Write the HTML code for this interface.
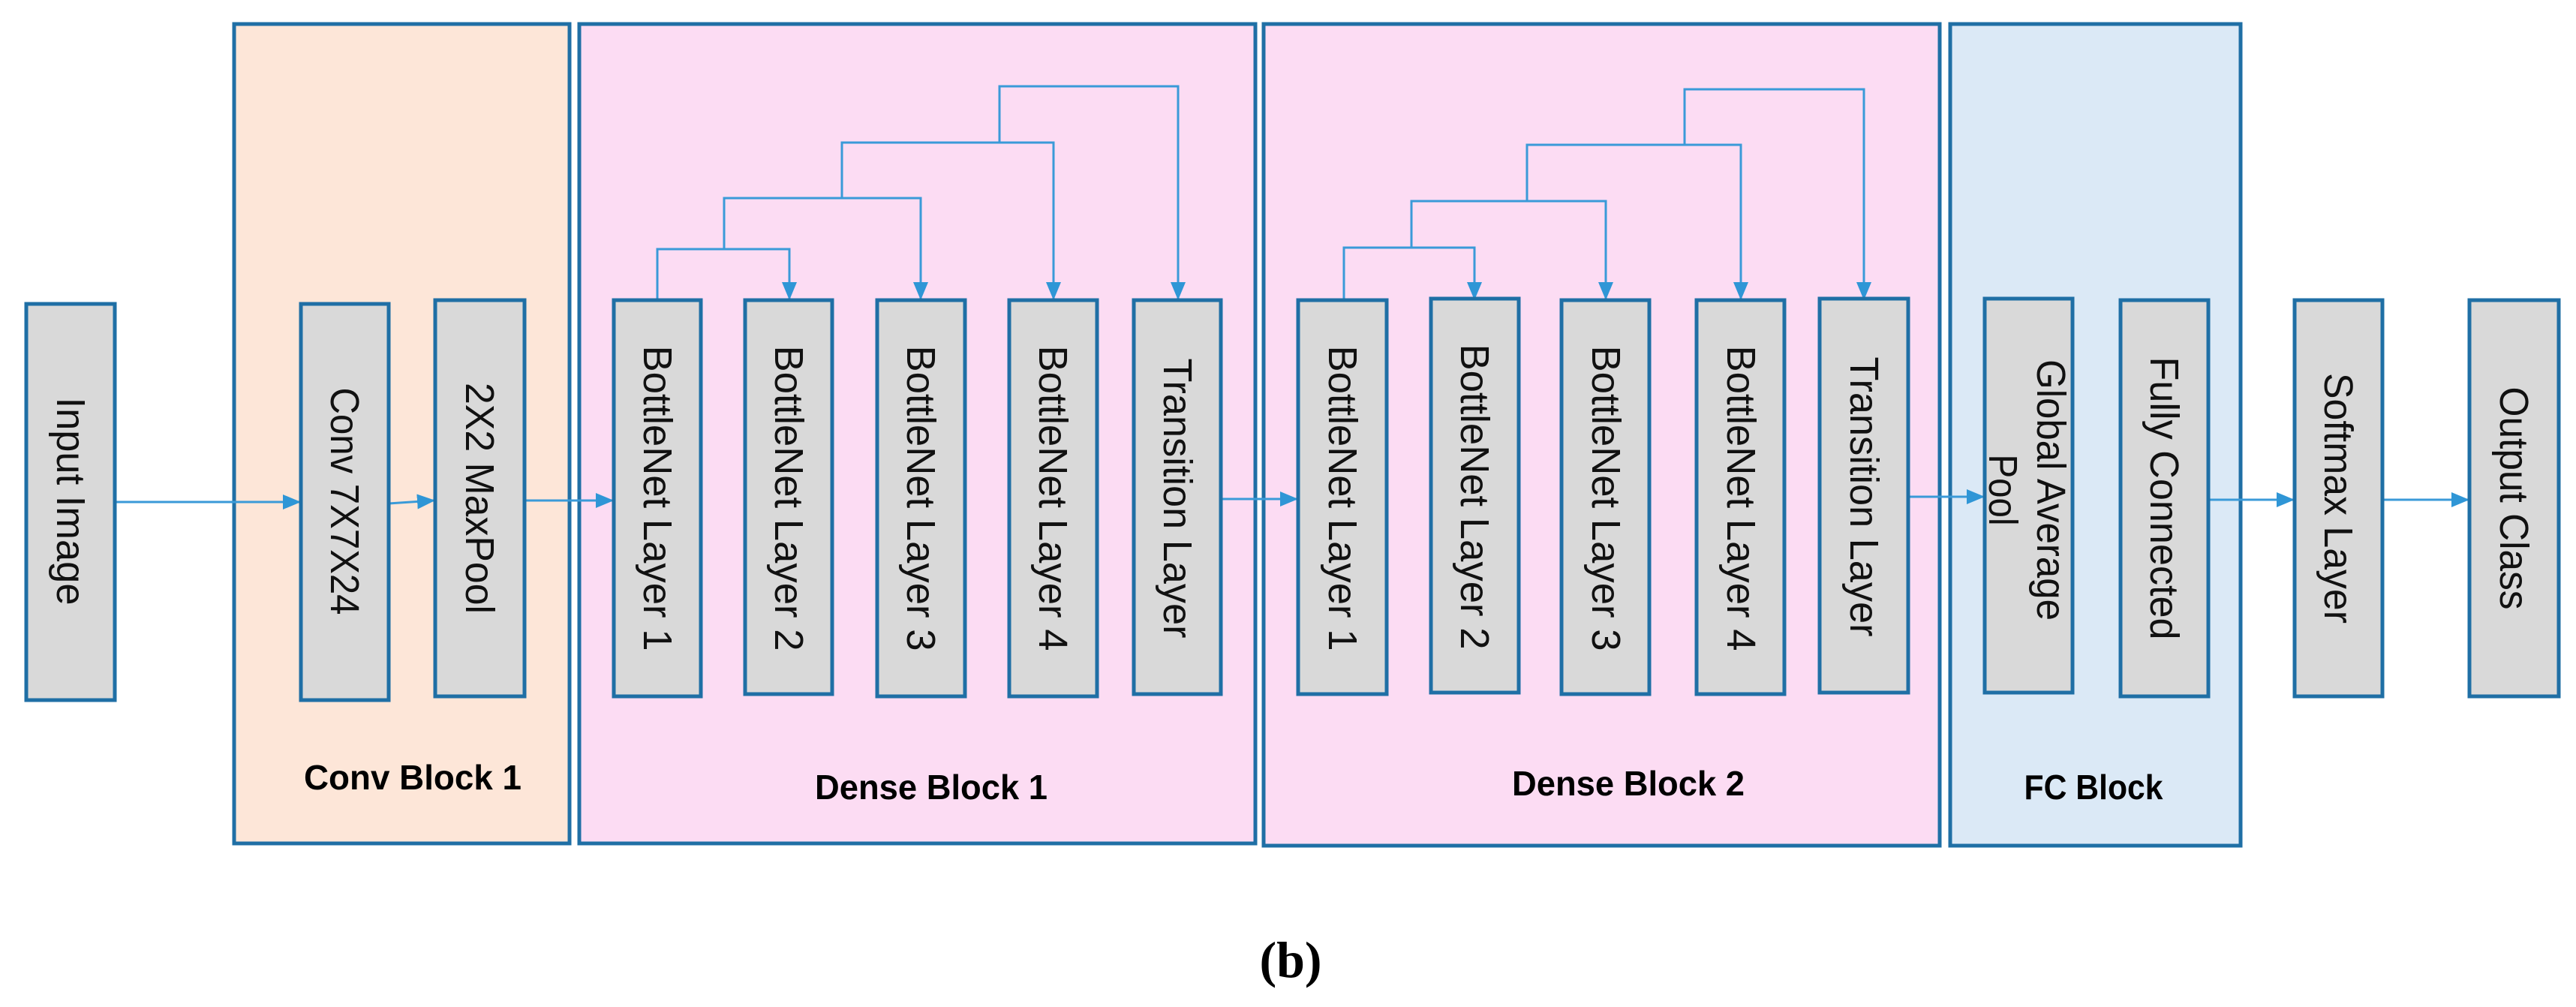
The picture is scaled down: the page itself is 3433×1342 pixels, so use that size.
<!DOCTYPE html>
<html><head><meta charset="utf-8"><style>
html,body{margin:0;padding:0;background:#fff;}
svg{display:block;}
.blk{stroke:#1f6fa5;stroke-width:5;}
.bx{fill:#d9d9d9;stroke:#1f6fa5;stroke-width:5;}
.t{font-family:"Liberation Sans",sans-serif;font-size:54px;fill:#111;}
.lb{font-family:"Liberation Sans",sans-serif;font-size:46px;font-weight:bold;fill:#000;}
.c{stroke:#3a9ad8;stroke-width:3;fill:none;}
</style></head><body>
<svg width="3433" height="1342" viewBox="0 0 3433 1342" xmlns="http://www.w3.org/2000/svg">
<defs>
<marker id="ah" markerWidth="24" markerHeight="20" refX="22" refY="10" orient="auto" markerUnits="userSpaceOnUse"><path d="M0,0 L24,10 L0,20 z" fill="#2f96d6"/></marker></defs>
<rect class="blk" x="312" y="32" width="447" height="1092" fill="#fde6d8"/>
<rect class="blk" x="772" y="32" width="901" height="1092" fill="#fcdcf3"/>
<rect class="blk" x="1684" y="32" width="901" height="1095" fill="#fcdcf3"/>
<rect class="blk" x="2599" y="32" width="387" height="1095" fill="#dbe9f6"/>
<text class="lb" x="550" y="1052" text-anchor="middle" textLength="290" lengthAdjust="spacingAndGlyphs">Conv Block 1</text>
<text class="lb" x="1241" y="1065" text-anchor="middle" textLength="310" lengthAdjust="spacingAndGlyphs">Dense Block 1</text>
<text class="lb" x="2170" y="1060" text-anchor="middle" textLength="310" lengthAdjust="spacingAndGlyphs">Dense Block 2</text>
<text class="lb" x="2790" y="1065" text-anchor="middle" textLength="185" lengthAdjust="spacingAndGlyphs">FC Block</text>
<text x="1720" y="1302" text-anchor="middle" font-family="Liberation Serif,serif" font-size="68" font-weight="bold">(b)</text>
<path class="c" d="M876,400 V332 H1052 V398" marker-end="url(#ah)"/>
<path class="c" d="M965,332 V264 H1227 V398" marker-end="url(#ah)"/>
<path class="c" d="M1122,264 V190 H1404 V398" marker-end="url(#ah)"/>
<path class="c" d="M1332,190 V115 H1570 V398" marker-end="url(#ah)"/>
<path class="c" d="M1791,400 V330 H1965 V398" marker-end="url(#ah)"/>
<path class="c" d="M1881,330 V268 H2140 V398" marker-end="url(#ah)"/>
<path class="c" d="M2035,268 V193 H2320 V398" marker-end="url(#ah)"/>
<path class="c" d="M2245,193 V119 H2484 V398" marker-end="url(#ah)"/>
<path class="c" d="M153,669 H399" marker-end="url(#ah)"/>
<path class="c" d="M518,671 L578,667" marker-end="url(#ah)"/>
<path class="c" d="M699,667 H816" marker-end="url(#ah)"/>
<path class="c" d="M1627,665 H1728" marker-end="url(#ah)"/>
<path class="c" d="M2543,662 H2643" marker-end="url(#ah)"/>
<path class="c" d="M2943,666 H3056" marker-end="url(#ah)"/>
<path class="c" d="M3175,666 H3289" marker-end="url(#ah)"/>
<g>
<rect class="bx" x="35" y="405" width="118" height="528"/>
<rect class="bx" x="401" y="405" width="117" height="528"/>
<rect class="bx" x="580" y="400" width="119" height="528"/>
<rect class="bx" x="818" y="400" width="116" height="528"/>
<rect class="bx" x="993" y="400" width="116" height="525"/>
<rect class="bx" x="1169" y="400" width="117" height="528"/>
<rect class="bx" x="1345" y="400" width="117" height="528"/>
<rect class="bx" x="1511" y="400" width="116" height="525"/>
<rect class="bx" x="1730" y="400" width="118" height="525"/>
<rect class="bx" x="1907" y="398" width="117" height="525"/>
<rect class="bx" x="2081" y="400" width="117" height="525"/>
<rect class="bx" x="2261" y="400" width="117" height="525"/>
<rect class="bx" x="2425" y="398" width="118" height="525"/>
<rect class="bx" x="2645" y="398" width="117" height="525"/>
<rect class="bx" x="2826" y="400" width="117" height="528"/>
<rect class="bx" x="3058" y="400" width="117" height="528"/>
<rect class="bx" x="3291" y="400" width="119" height="528"/>
</g>
<g class="t" text-anchor="middle" dominant-baseline="central">
<text transform="translate(94,668) rotate(90)" textLength="277" lengthAdjust="spacingAndGlyphs">Input Image</text>
<text transform="translate(459,668) rotate(90)" textLength="303" lengthAdjust="spacingAndGlyphs">Conv 7X7X24</text>
<text transform="translate(639,664) rotate(90)" textLength="308" lengthAdjust="spacingAndGlyphs">2X2 MaxPool</text>
<text transform="translate(876,664) rotate(90)" textLength="407" lengthAdjust="spacingAndGlyphs">BottleNet Layer 1</text>
<text transform="translate(1051,664) rotate(90)" textLength="407" lengthAdjust="spacingAndGlyphs">BottleNet Layer 2</text>
<text transform="translate(1227,664) rotate(90)" textLength="407" lengthAdjust="spacingAndGlyphs">BottleNet Layer 3</text>
<text transform="translate(1403,664) rotate(90)" textLength="407" lengthAdjust="spacingAndGlyphs">BottleNet Layer 4</text>
<text transform="translate(1569,664) rotate(90)" textLength="373" lengthAdjust="spacingAndGlyphs">Transition Layer</text>
<text transform="translate(1789,664) rotate(90)" textLength="407" lengthAdjust="spacingAndGlyphs">BottleNet Layer 1</text>
<text transform="translate(1965,662) rotate(90)" textLength="407" lengthAdjust="spacingAndGlyphs">BottleNet Layer 2</text>
<text transform="translate(2140,664) rotate(90)" textLength="407" lengthAdjust="spacingAndGlyphs">BottleNet Layer 3</text>
<text transform="translate(2320,664) rotate(90)" textLength="407" lengthAdjust="spacingAndGlyphs">BottleNet Layer 4</text>
<text transform="translate(2484,662) rotate(90)" textLength="373" lengthAdjust="spacingAndGlyphs">Transition Layer</text>
<text transform="translate(2733,653) rotate(90)" textLength="348" lengthAdjust="spacingAndGlyphs">Global Average</text>
<text transform="translate(2669,653) rotate(90)" textLength="95" lengthAdjust="spacingAndGlyphs">Pool</text>
<text transform="translate(2884,664) rotate(90)" textLength="377" lengthAdjust="spacingAndGlyphs">Fully Connected</text>
<text transform="translate(3116,664) rotate(90)" textLength="334" lengthAdjust="spacingAndGlyphs">Softmax Layer</text>
<text transform="translate(3350,664) rotate(90)" textLength="297" lengthAdjust="spacingAndGlyphs">Output Class</text>
</g>
</svg>
</body></html>
